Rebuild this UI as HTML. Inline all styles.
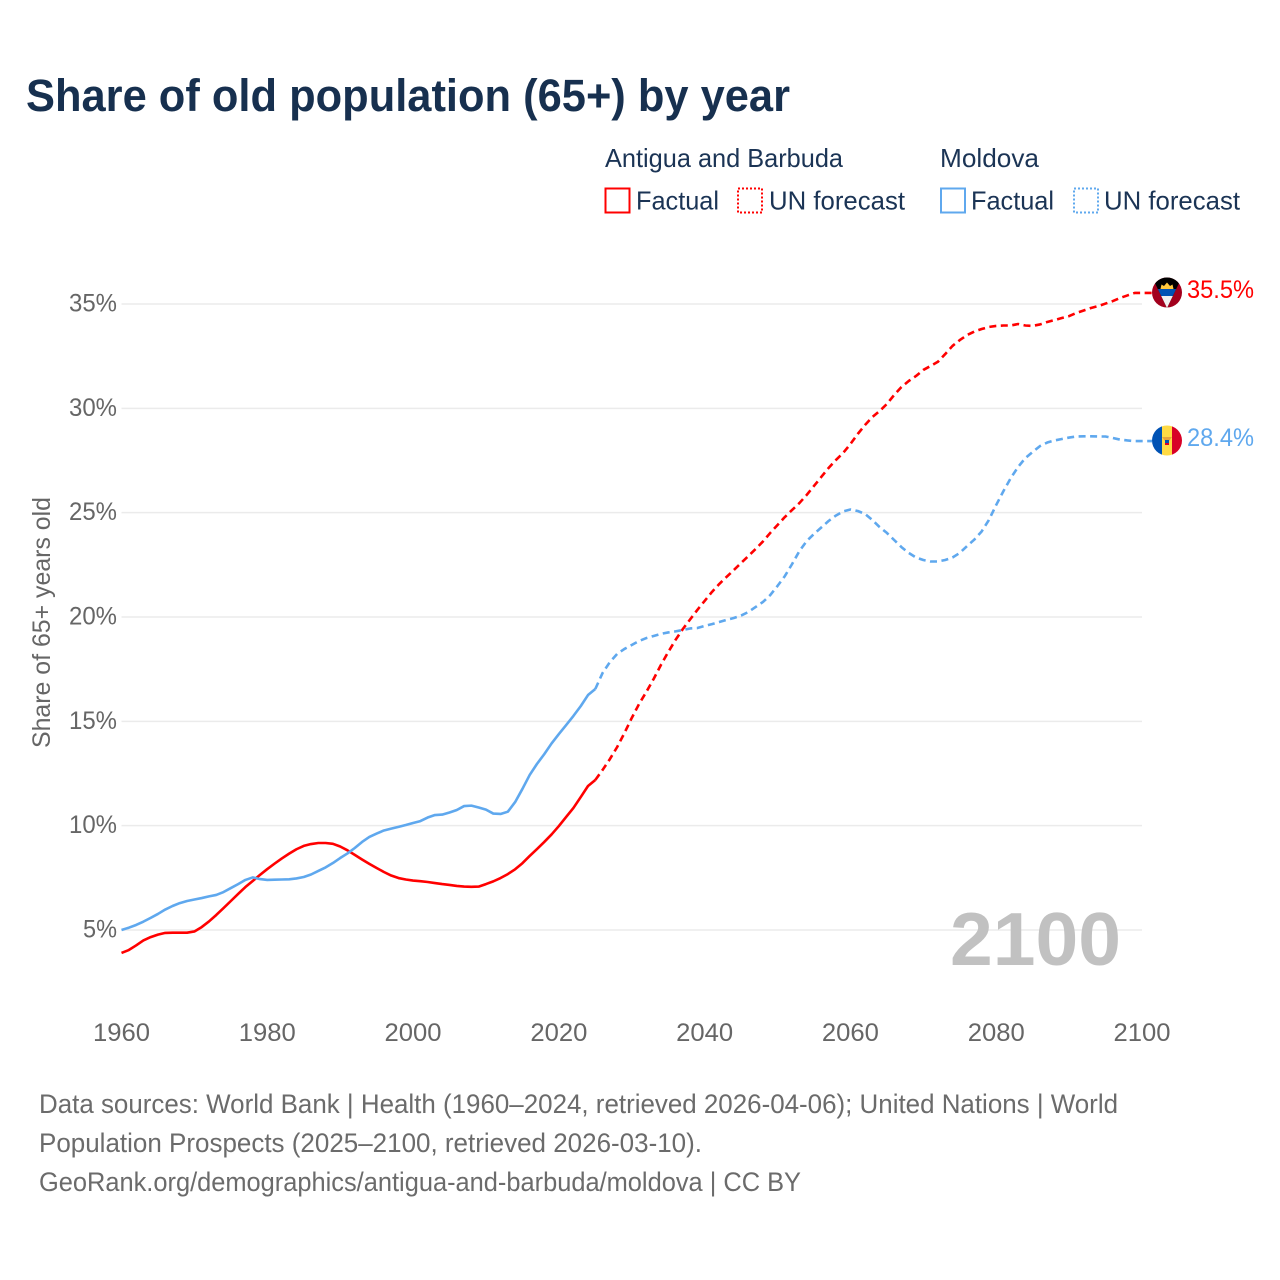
<!DOCTYPE html>
<html lang="en">
<head>
<meta charset="utf-8">
<title>Share of old population (65+) by year</title>
<style>
html,body{margin:0;padding:0;background:#fff;width:1280px;height:1280px;overflow:hidden}
svg{display:block;font-family:"Liberation Sans",sans-serif}
</style>
</head>
<body>
<svg id="chart" xmlns="http://www.w3.org/2000/svg" width="1280" height="1280" viewBox="0 0 1280 1280">
  <defs>
    <clipPath id="clip-ag"><circle cx="1167" cy="292.5" r="15"/></clipPath>
    <clipPath id="clip-md"><circle cx="1167" cy="440.5" r="15"/></clipPath>
  </defs>
  <rect x="0" y="0" width="1280" height="1280" fill="#fff"/>
  <text x="26" y="111" font-size="45" font-weight="700" fill="#17304f" textLength="764" lengthAdjust="spacingAndGlyphs">Share of old population (65+) by year</text>

  <g font-size="26" fill="#1b3455">
    <text x="605" y="167" textLength="238" lengthAdjust="spacingAndGlyphs">Antigua and Barbuda</text>
    <text x="940" y="167" textLength="99" lengthAdjust="spacingAndGlyphs">Moldova</text>
    <rect x="605.5" y="188.5" width="24" height="24" fill="none" stroke="#ff0000" stroke-width="2"/>
    <text x="636" y="209.5" textLength="83" lengthAdjust="spacingAndGlyphs">Factual</text>
    <rect x="738" y="188.5" width="24" height="24" fill="none" stroke="#ff0000" stroke-width="2" stroke-dasharray="2 2"/>
    <text x="769" y="209.5" textLength="136" lengthAdjust="spacingAndGlyphs">UN forecast</text>
    <rect x="941" y="188.5" width="24" height="24" fill="none" stroke="#5fa8ee" stroke-width="2"/>
    <text x="971" y="209.5" textLength="83" lengthAdjust="spacingAndGlyphs">Factual</text>
    <rect x="1074" y="188.5" width="24" height="24" fill="none" stroke="#5fa8ee" stroke-width="2" stroke-dasharray="2 2"/>
    <text x="1104" y="209.5" textLength="136" lengthAdjust="spacingAndGlyphs">UN forecast</text>
  </g>

  <g id="grid"></g>
  <g id="yticks"></g>
  <g id="xticks"></g>
  <text transform="translate(50,622.5) rotate(-90)" text-anchor="middle" font-size="25" fill="#666" textLength="251" lengthAdjust="spacingAndGlyphs">Share of 65+ years old</text>
  <text x="950" y="965" font-size="75" font-weight="700" fill="#c1c1c1" textLength="171" lengthAdjust="spacingAndGlyphs">2100</text>
  <g id="series"></g>

  <g clip-path="url(#clip-ag)">
    <rect x="1152" y="277" width="30" height="31" fill="#a2001d"/>
    <polygon points="1152,277 1182,277 1167,308" fill="#000"/>
    <polygon points="1160.5,289 1161.5,284.5 1164,286 1167,282.5 1170,286 1172.5,284.5 1173.5,289" fill="#ffc83d"/>
    <polygon points="1157.8,289 1176.2,289 1172.8,296 1161.2,296" fill="#0052b4"/>
    <polygon points="1161.2,296 1172.8,296 1167,308" fill="#f0f0f0"/>
  </g>
  <text x="1187" y="298" font-size="25" fill="#ff0000" textLength="67" lengthAdjust="spacingAndGlyphs">35.5%</text>

  <g clip-path="url(#clip-md)">
    <rect x="1152" y="425" width="10" height="31" fill="#0052b4"/>
    <rect x="1162" y="425" width="10" height="31" fill="#ffda44"/>
    <rect x="1172" y="425" width="10" height="31" fill="#d80027"/>
    <polygon points="1162,437 1172,437 1169,441 1165,441" fill="#e8a33c"/>
    <rect x="1165" y="440" width="4" height="3" fill="#0052b4"/>
    <rect x="1165" y="443" width="4" height="2" fill="#d80027"/>
  </g>
  <text x="1187" y="446" font-size="25" fill="#5fa8ee" textLength="67" lengthAdjust="spacingAndGlyphs">28.4%</text>

  <g font-size="27" fill="#6b6b6b">
    <text x="39" y="1113" textLength="1079" lengthAdjust="spacingAndGlyphs">Data sources: World Bank | Health (1960–2024, retrieved 2026-04-06); United Nations | World</text>
    <text x="39" y="1152" textLength="663" lengthAdjust="spacingAndGlyphs">Population Prospects (2025–2100, retrieved 2026-03-10).</text>
    <text x="39" y="1191" textLength="762" lengthAdjust="spacingAndGlyphs">GeoRank.org/demographics/antigua-and-barbuda/moldova | CC BY</text>
  </g>
</svg>
<script>
var firstYear = 1960;
var lastYear = 2100;
var lastFactualYear = 2025;
var yTickValues = [5, 10, 15, 20, 25, 30, 35];
var yTickLabels = ["5%", "10%", "15%", "20%", "25%", "30%", "35%"];
var xTickValues = [1960, 1980, 2000, 2020, 2040, 2060, 2080, 2100];
var xTickLabels = ["1960", "1980", "2000", "2020", "2040", "2060", "2080", "2100"];
var antiguaValues = [
3.90,4.04,4.26,4.50,4.66,4.78,4.86,4.87,4.87,4.87,
4.93,5.14,5.41,5.72,6.05,6.39,6.73,7.06,7.35,7.64,
7.92,8.18,8.43,8.66,8.87,9.03,9.12,9.17,9.17,9.13,
9.00,8.82,8.60,8.38,8.17,7.97,7.78,7.61,7.49,7.42,
7.37,7.34,7.30,7.25,7.20,7.16,7.11,7.08,7.07,7.08,
7.20,7.33,7.49,7.68,7.91,8.20,8.55,8.88,9.22,9.58,
9.98,10.42,10.85,11.37,11.90,12.19,12.67,13.19,13.77,14.44,
15.16,15.83,16.41,17.03,17.70,18.32,18.90,19.42,19.88,20.34,
20.77,21.20,21.58,21.92,22.25,22.59,22.92,23.26,23.62,24.03,
24.41,24.79,25.13,25.46,25.85,26.28,26.71,27.14,27.52,27.86,
28.29,28.77,29.20,29.58,29.87,30.21,30.64,31.02,31.31,31.55,
31.84,32.03,32.23,32.60,32.99,33.27,33.51,33.68,33.80,33.90,
33.95,33.97,33.97,34.04,33.97,33.95,34.02,34.14,34.23,34.33,
34.42,34.57,34.69,34.81,34.90,35.02,35.14,35.29,35.41,35.53,
35.53];
var moldovaValues = [
5.00,5.11,5.24,5.40,5.58,5.77,5.98,6.15,6.29,6.39,
6.46,6.53,6.61,6.68,6.82,7.01,7.20,7.40,7.52,7.44,
7.40,7.41,7.42,7.43,7.47,7.54,7.66,7.83,8.00,8.21,
8.45,8.67,8.93,9.22,9.46,9.62,9.77,9.86,9.94,10.03,
10.13,10.22,10.39,10.51,10.53,10.63,10.75,10.94,10.96,10.87,
10.77,10.58,10.56,10.67,11.13,11.76,12.43,12.96,13.43,13.94,
14.39,14.82,15.26,15.73,16.26,16.55,17.32,17.84,18.23,18.47,
18.66,18.85,18.99,19.09,19.19,19.26,19.31,19.38,19.45,19.47,
19.57,19.66,19.76,19.86,19.95,20.07,20.24,20.48,20.72,21.05,
21.49,21.96,22.54,23.16,23.64,23.98,24.29,24.60,24.86,25.06,
25.15,25.08,24.94,24.65,24.31,24.03,23.69,23.35,23.07,22.85,
22.73,22.66,22.66,22.73,22.85,23.07,23.40,23.71,24.10,24.65,
25.37,26.04,26.66,27.19,27.62,27.91,28.19,28.36,28.46,28.53,
28.60,28.65,28.66,28.66,28.65,28.65,28.58,28.50,28.46,28.43,
28.43];

var NS = "http://www.w3.org/2000/svg";
function xScale(year) { return 121.5 + (year - 1960) * (1142 - 121.5) / 140; }
function yScale(value) { return 930 - (value - 5) * (930 - 304) / 30; }

var gridGroup = document.getElementById("grid");
var yGroup = document.getElementById("yticks");
var xGroup = document.getElementById("xticks");
var seriesGroup = document.getElementById("series");

yTickValues.forEach(function (v, i) {
  var line = document.createElementNS(NS, "line");
  
  
  line.setAttribute("x1", xScale(firstYear));
  line.setAttribute("x2", xScale(lastYear));
  line.setAttribute("y1", yScale(v));
  line.setAttribute("y2", yScale(v));
  line.setAttribute("stroke", "#ebebeb");
  line.setAttribute("stroke-width", "1.5");
  gridGroup.appendChild(line);

  var label = document.createElementNS(NS, "text");
  
  
  label.setAttribute("x", 117);
  label.setAttribute("y", yScale(v) + 7.5);
  label.setAttribute("text-anchor", "end");
  label.setAttribute("font-size", "25");
  label.setAttribute("fill", "#666");
  label.setAttribute("textLength", yTickLabels[i].length === 2 ? 34 : 48);
  label.setAttribute("lengthAdjust", "spacingAndGlyphs");
  label.textContent = yTickLabels[i];
  yGroup.appendChild(label);
});

xTickValues.forEach(function (v, i) {
  var label = document.createElementNS(NS, "text");
  
  
  label.setAttribute("x", xScale(v));
  label.setAttribute("y", 1041);
  label.setAttribute("text-anchor", "middle");
  label.setAttribute("font-size", "25");
  label.setAttribute("fill", "#666");
  label.setAttribute("textLength", 57);
  label.setAttribute("lengthAdjust", "spacingAndGlyphs");
  label.textContent = xTickLabels[i];
  xGroup.appendChild(label);
});

function pointsFor(values, fromYear, toYear, toFlag) {
  var pts = [];
  for (var year = fromYear; year <= toYear; year++) {
    var value = values[year - firstYear];
    if (value === undefined) continue;
    pts.push(xScale(year).toFixed(2) + "," + yScale(value).toFixed(2));
  }
  if (toFlag) {
    pts.push((xScale(toYear) + 10).toFixed(2) + "," + yScale(values[toYear - firstYear]).toFixed(2));
  }
  return pts.join(" ");
}

function drawPath(values, color, fromYear, toYear, dashed, name) {
  var poly = document.createElementNS(NS, "polyline");
  
  
  poly.setAttribute("points", pointsFor(values, fromYear, toYear, dashed));
  poly.setAttribute("fill", "none");
  poly.setAttribute("stroke", color);
  poly.setAttribute("stroke-width", "2.6");
  poly.setAttribute("stroke-linejoin", "round");
  if (dashed) poly.setAttribute("stroke-dasharray", "7 4.5");
  seriesGroup.appendChild(poly);
}

drawPath(antiguaValues, "#ff0000", firstYear, lastFactualYear, false, "antigua-factual-line");
drawPath(antiguaValues, "#ff0000", lastFactualYear, lastYear, true, "antigua-forecast-line");
drawPath(moldovaValues, "#5fa8ee", firstYear, lastFactualYear, false, "moldova-factual-line");
drawPath(moldovaValues, "#5fa8ee", lastFactualYear, lastYear, true, "moldova-forecast-line");
</script>
</body>
</html>
